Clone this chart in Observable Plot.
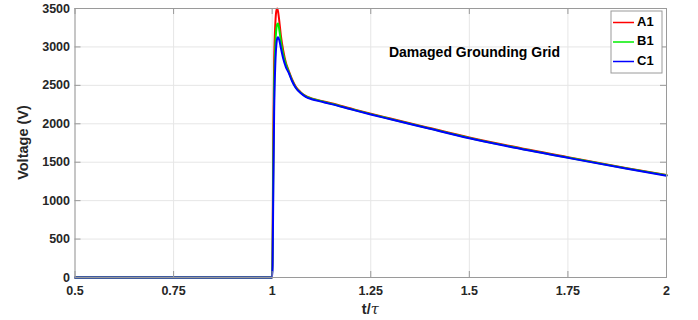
<!DOCTYPE html>
<html>
<head>
<meta charset="utf-8">
<script src="https://cdn.jsdelivr.net/npm/d3@7"></script>
<script src="https://cdn.jsdelivr.net/npm/@observablehq/plot@0.6"></script>
<style>
  html, body { margin: 0; padding: 0; background: #fff; }
  #chart { width: 698px; height: 320px; }
</style>
</head>
<body>
<div id="chart"></div>
<script>
// ---- data ----
const t  = [0.5, 0.9, 0.998, 1.0, 1.001, 1.003, 1.005, 1.008, 1.011, 1.013, 1.015, 1.018, 1.022, 1.028, 1.035, 1.042, 1.05, 1.06, 1.072, 1.085, 1.1, 1.125, 1.15, 1.2, 1.25, 1.3, 1.4, 1.5, 1.6, 1.75, 1.9, 2.0];
const A1 = [0, 0, 0, 0, 400, 1900, 2800, 3300, 3480, 3500, 3460, 3340, 3150, 2955, 2790, 2690, 2585, 2482, 2412, 2362, 2331, 2298, 2266, 2198, 2131, 2068, 1944, 1821, 1714, 1566, 1423, 1334];
const B1 = [0, 0, 0, 0, 250, 1500, 2450, 3020, 3250, 3300, 3305, 3225, 3080, 2905, 2770, 2677, 2572, 2473, 2406, 2356, 2326, 2293, 2261, 2193, 2126, 2063, 1939, 1816, 1709, 1561, 1418, 1329];
const C1 = [0, 0, 0, 0, 150, 1200, 2150, 2780, 3050, 3115, 3125, 3090, 2990, 2850, 2735, 2662, 2560, 2465, 2400, 2350, 2320, 2288, 2256, 2188, 2121, 2058, 1935, 1812, 1705, 1557, 1414, 1325];
const seriesNames = ["A1", "B1", "C1"];
const seriesColors = ["#ff0000", "#00ee00", "#0000ff"];
const xTicks = [0.5, 0.75, 1, 1.25, 1.5, 1.75, 2];
const xTickLabels = ["0.5", "0.75", "1", "1.25", "1.5", "1.75", "2"];
const yTicks = [0, 500, 1000, 1500, 2000, 2500, 3000, 3500];
const annotation = "Damaged Grounding Grid";

const data = [];
[A1, B1, C1].forEach((vals, k) => vals.forEach((v, i) => data.push({t: t[i], v, s: seriesNames[k]})));

const W = 698, H = 320;
const mL = 74.5, mR = 32, mT = 8, mB = 43;
const pw = W - mL - mR, ph = H - mT - mB;
const font = "'Liberation Sans', Arial, sans-serif";
const textColor = "#262626";

const svg = Plot.plot({
  width: W, height: H,
  marginLeft: mL, marginRight: mR, marginTop: mT, marginBottom: mB,
  style: {fontFamily: font, fontWeight: "bold", color: textColor, background: "#fff"},
  x: {domain: [0.5, 2]},
  y: {domain: [0, 3500]},
  color: {domain: seriesNames, range: seriesColors},
  marks: [
    Plot.ruleX(xTicks, {stroke: "#e6e6e6", strokeWidth: 1}),
    Plot.ruleY(yTicks, {stroke: "#e6e6e6", strokeWidth: 1}),
    Plot.line(data, {x: "t", y: "v", z: "s", stroke: "s", strokeWidth: 2, curve: "monotone-x"}),
    Plot.frame({stroke: "#9a9a9a", strokeWidth: 1}),
    Plot.tickX(xTicks, {x: d => d, insetTop: ph - 6, stroke: "#9a9a9a"}),
    Plot.tickX(xTicks, {x: d => d, insetBottom: ph - 6, stroke: "#9a9a9a"}),
    Plot.tickY(yTicks, {y: d => d, insetRight: pw - 6, stroke: "#9a9a9a"}),
    Plot.tickY(yTicks, {y: d => d, insetLeft: pw - 6, stroke: "#9a9a9a"}),
    Plot.axisX(xTicks, {tickSize: 0, tickPadding: 9, fontSize: 12.5, label: null,
      tickFormat: d => xTickLabels[xTicks.indexOf(d)], fill: textColor}),
    Plot.axisY(yTicks, {tickSize: 0, tickPadding: 5, fontSize: 12.5, label: null, tickFormat: d => String(d), fill: textColor}),
    Plot.text([annotation], {text: d => d, frameAnchor: "top-left", dx: 474 - mL, dy: 47 - mT,
      textAnchor: "middle", fontSize: 14, fontWeight: "bold", fill: "#000"})
  ]
});

const s = d3.select(svg);
// axis labels
s.append("text")
  .attr("transform", `translate(24,${mT + ph / 2}) rotate(-90)`)
  .attr("text-anchor", "middle").attr("dominant-baseline", "middle")
  .attr("font-size", 14.5).attr("font-weight", "bold").attr("fill", textColor)
  .attr("font-family", font)
  .text("Voltage (V)");
const xl = s.append("text")
  .attr("x", mL + pw / 2).attr("y", 314)
  .attr("text-anchor", "middle")
  .attr("font-size", 14.5).attr("font-weight", "bold").attr("fill", textColor)
  .attr("font-family", font);
xl.append("tspan").text("t/");
xl.append("tspan").attr("font-style", "italic").attr("font-weight", "normal").attr("font-family", "'DejaVu Serif', serif").text("τ");

// legend
const lg = s.append("g");
lg.append("rect").attr("x", 611).attr("y", 11).attr("width", 51).attr("height", 62)
  .attr("fill", "#fff").attr("stroke", "#9a9a9a").attr("stroke-width", 1);
seriesNames.forEach((n, i) => {
  const y = 22.5 + i * 19.5;
  lg.append("line").attr("x1", 613).attr("x2", 634).attr("y1", y).attr("y2", y)
    .attr("stroke", seriesColors[i]).attr("stroke-width", 1.5);
  lg.append("text").attr("x", 637).attr("y", y).attr("dominant-baseline", "middle")
    .attr("text-anchor", "start")
    .attr("font-size", 13).attr("font-weight", "bold").attr("fill", "#000")
    .attr("font-family", font).text(n);
});

document.getElementById("chart").appendChild(svg);
</script>
</body>
</html>
